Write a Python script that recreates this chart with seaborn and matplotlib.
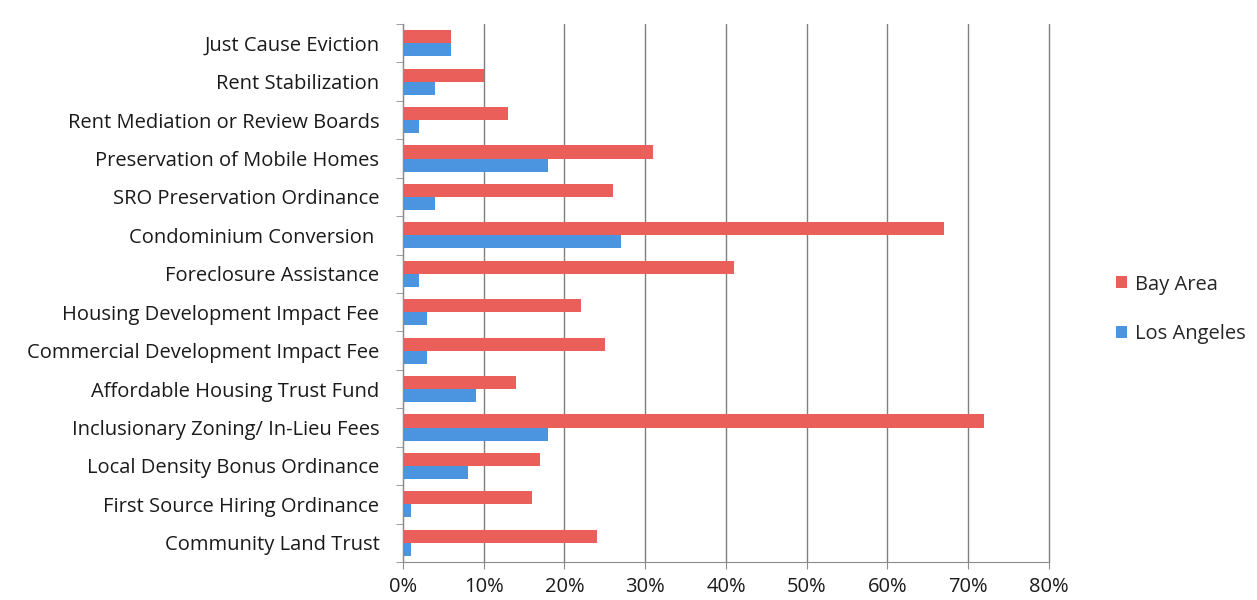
import pandas as pd
import matplotlib.pyplot as plt
import seaborn as sns
from matplotlib.ticker import FixedLocator, PercentFormatter

policies = [
    "Just Cause Eviction",
    "Rent Stabilization",
    "Rent Mediation or Review Boards",
    "Preservation of Mobile Homes",
    "SRO Preservation Ordinance",
    "Condominium Conversion ",
    "Foreclosure Assistance",
    "Housing Development Impact Fee",
    "Commercial Development Impact Fee",
    "Affordable Housing Trust Fund",
    "Inclusionary Zoning/ In-Lieu Fees",
    "Local Density Bonus Ordinance",
    "First Source Hiring Ordinance",
    "Community Land Trust",
]
bay_area = [6, 10, 13, 31, 26, 67, 41, 22, 25, 14, 72, 17, 16, 24]
los_angeles = [6, 4, 2, 18, 4, 27, 2, 3, 3, 9, 18, 8, 1, 1]
regions = ["Bay Area", "Los Angeles"]

df = pd.DataFrame({
    "Policy": policies * 2,
    "Share": bay_area + los_angeles,
    "Region": [regions[0]] * len(policies) + [regions[1]] * len(policies),
})

sns.set_style("white")
plt.rcParams["font.family"] = ["Open Sans", "DejaVu Sans"]

fig = plt.figure(figsize=(12.57, 6), dpi=100)
ax = fig.add_axes([0.3206, 0.0633, 0.5139, 0.8967])

sns.barplot(
    data=df, y="Policy", x="Share", hue="Region", orient="h",
    palette=["#EA5F5A", "#4A94E0"], saturation=1, width=0.68, linewidth=0,
    ax=ax, legend=True,
)

ax.set_xlim(0, 80)
ax.set_ylim(len(policies) - 0.5, -0.5)
ax.set_xticks(range(0, 81, 10))
ax.xaxis.set_major_formatter(PercentFormatter(decimals=0))
ax.grid(axis="x", color="#7f7f7f", linewidth=1)
for gl in ax.get_xgridlines():
    gl.set_clip_on(False)
ax.set_axisbelow(True)
ax.set_xlabel("")
ax.set_ylabel("")

for s in ["top", "right"]:
    ax.spines[s].set_visible(False)
for s in ["left", "bottom"]:
    ax.spines[s].set_color("#8c8c8c")

ax.tick_params(axis="y", length=0, labelsize=14.5, pad=17, colors="#1a1a1a")
ax.yaxis.set_minor_locator(FixedLocator([i + 0.5 for i in range(-1, len(policies))]))
ax.tick_params(axis="y", which="minor", length=5, color="#8c8c8c", left=True)
ax.tick_params(axis="x", length=5, color="#8c8c8c", bottom=True, labelsize=14.5,
               pad=6, colors="#1a1a1a")

leg = ax.legend(loc="center left", bbox_to_anchor=(1.076, 0.47), frameon=False,
                fontsize=14.5, handlelength=0.55, handleheight=0.55,
                handletextpad=0.4, labelspacing=1.45)

fig.savefig("out.png", dpi=100)
